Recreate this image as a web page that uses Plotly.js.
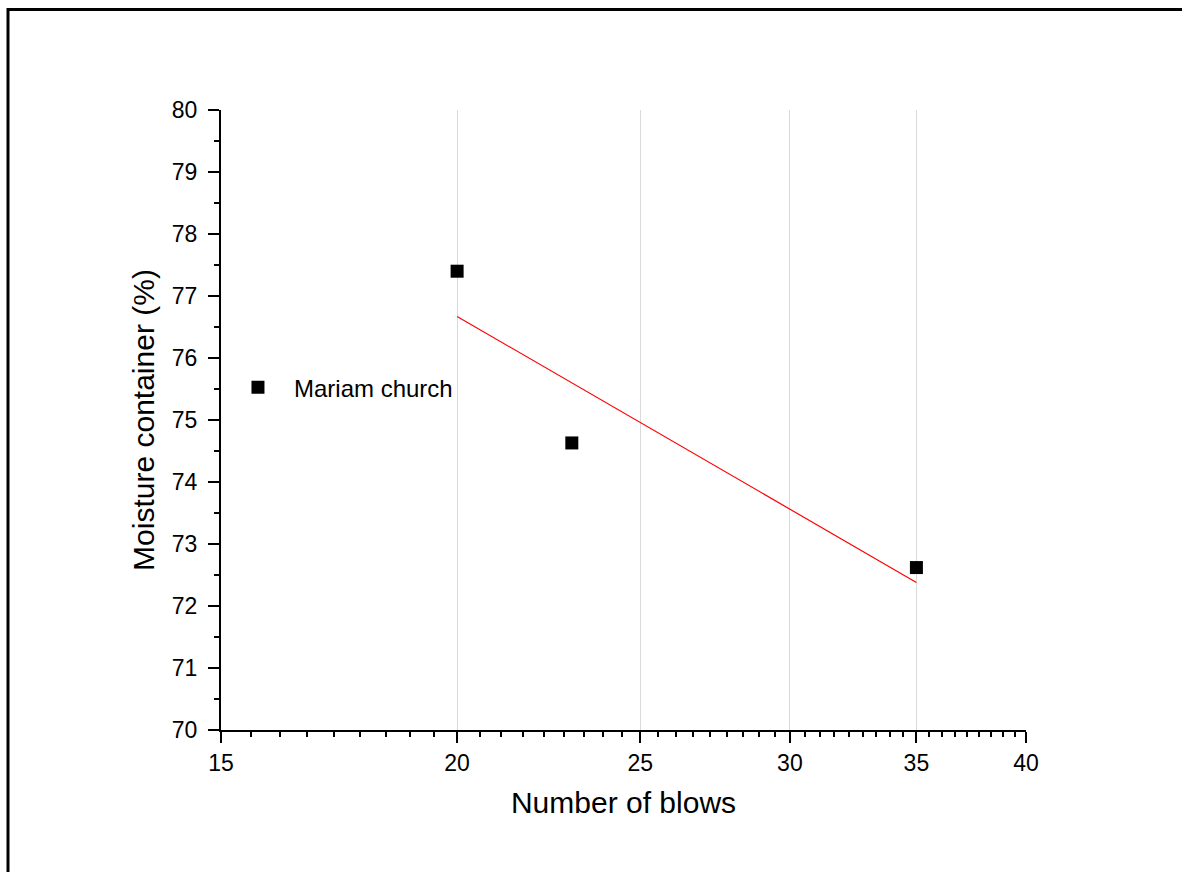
<!DOCTYPE html>
<html>
<head>
<meta charset="utf-8">
<script src="https://cdn.plot.ly/plotly-3.0.1.min.js"></script>
<style>html,body{margin:0;padding:0;background:#fff;}#chart{width:1191px;height:872px;}</style>
</head>
<body>
<div id="chart"></div>
<script>
// ---- data ----
const blows = [20, 23, 35];
const moisture = [77.4, 74.63, 72.62];
const fitBlows = [20, 35];
const fitMoisture = [76.67, 72.38];
const seriesName = "Mariam church";
const xTickVals = [15, 20, 25, 30, 35, 40];
const xGridVals = [20, 25, 30, 35];
const xTitle = "Number of blows";
const yTitle = "Moisture container (%)";

// minor tick positions: 8 evenly spaced per major interval
const xMinorVals = [];
for (let i = 0; i < xTickVals.length - 1; i++) {
  const a = xTickVals[i], b = xTickVals[i + 1];
  for (let k = 1; k <= 8; k++) xMinorVals.push(a + (b - a) * k / 9);
}

const font = "Arial, 'Liberation Sans', sans-serif";
const xRange = [Math.log10(15), Math.log10(40)];

const traces = [
  {x: [20], y: [null], xaxis: "x2", yaxis: "y", type: "scatter", mode: "markers", showlegend: false, hoverinfo: "skip"},
  {
    x: fitBlows, y: fitMoisture, type: "scatter", mode: "lines",
    line: {color: "#ff0000", width: 1.2}, showlegend: false, hoverinfo: "skip"
  },
  {
    x: blows, y: moisture, type: "scatter", mode: "markers", name: seriesName,
    marker: {symbol: "square", size: 13, color: "#000000"}
  }
];

const layout = {
  width: 1191, height: 872,
  paper_bgcolor: "#ffffff", plot_bgcolor: "rgba(0,0,0,0)",
  margin: {l: 221, r: 165, t: 110, b: 142},
  font: {family: font, color: "#000"},
  showlegend: true,
  legend: {
    x: 0.0012, y: 0.552, xanchor: "left", yanchor: "middle",
    bgcolor: "rgba(0,0,0,0)", font: {size: 24, family: font, color: "#000"},
    itemwidth: 62
  },
  xaxis: {
    type: "log", range: xRange,
    tickmode: "array", tickvals: xTickVals, ticktext: xTickVals.map(String),
    ticks: "outside", ticklen: 11, tickwidth: 2, tickcolor: "#000",
    tickfont: {size: 23, family: font, color: "#000"},
    showline: true, linecolor: "#000", linewidth: 2,
    showgrid: false, zeroline: false,
    minor: {tickmode: "array", tickvals: xMinorVals, ticks: "outside", ticklen: 5, tickwidth: 2, tickcolor: "#000", showgrid: false},
    title: {text: xTitle, font: {size: 30, family: font, color: "#000"}, standoff: 17}
  },
  xaxis2: {
    type: "log", range: xRange, overlaying: "x", side: "bottom",
    tickmode: "array", tickvals: xGridVals, showticklabels: false, ticks: "",
    showgrid: true, gridcolor: "#d9d9d9", gridwidth: 1, showline: false, zeroline: false
  },
  yaxis: {
    range: [70, 80], tickmode: "linear", tick0: 70, dtick: 1,
    ticks: "outside", ticklen: 11, tickwidth: 2, tickcolor: "#000",
    ticklabelstandoff: 6,
    tickfont: {size: 23, family: font, color: "#000"},
    showline: true, linecolor: "#000", linewidth: 2,
    showgrid: false, zeroline: false,
    minor: {dtick: 0.5, ticks: "outside", ticklen: 5, tickwidth: 2, tickcolor: "#000", showgrid: false},
    title: {text: yTitle, font: {size: 30, family: font, color: "#000"}, standoff: 8}
  },
  shapes: [
    {type: "line", xref: "paper", yref: "paper", x0: -0.2652, x1: 1.1938, y0: 1.1621, y1: 1.1621, line: {color: "#000", width: 3}},
    {type: "line", xref: "paper", yref: "paper", x0: -0.2646, x1: -0.2646, y0: 1.1645, y1: -0.25, line: {color: "#000", width: 3}}
  ]
};

Plotly.newPlot("chart", traces, layout, {displayModeBar: false, staticPlot: true});
</script>
</body>
</html>
